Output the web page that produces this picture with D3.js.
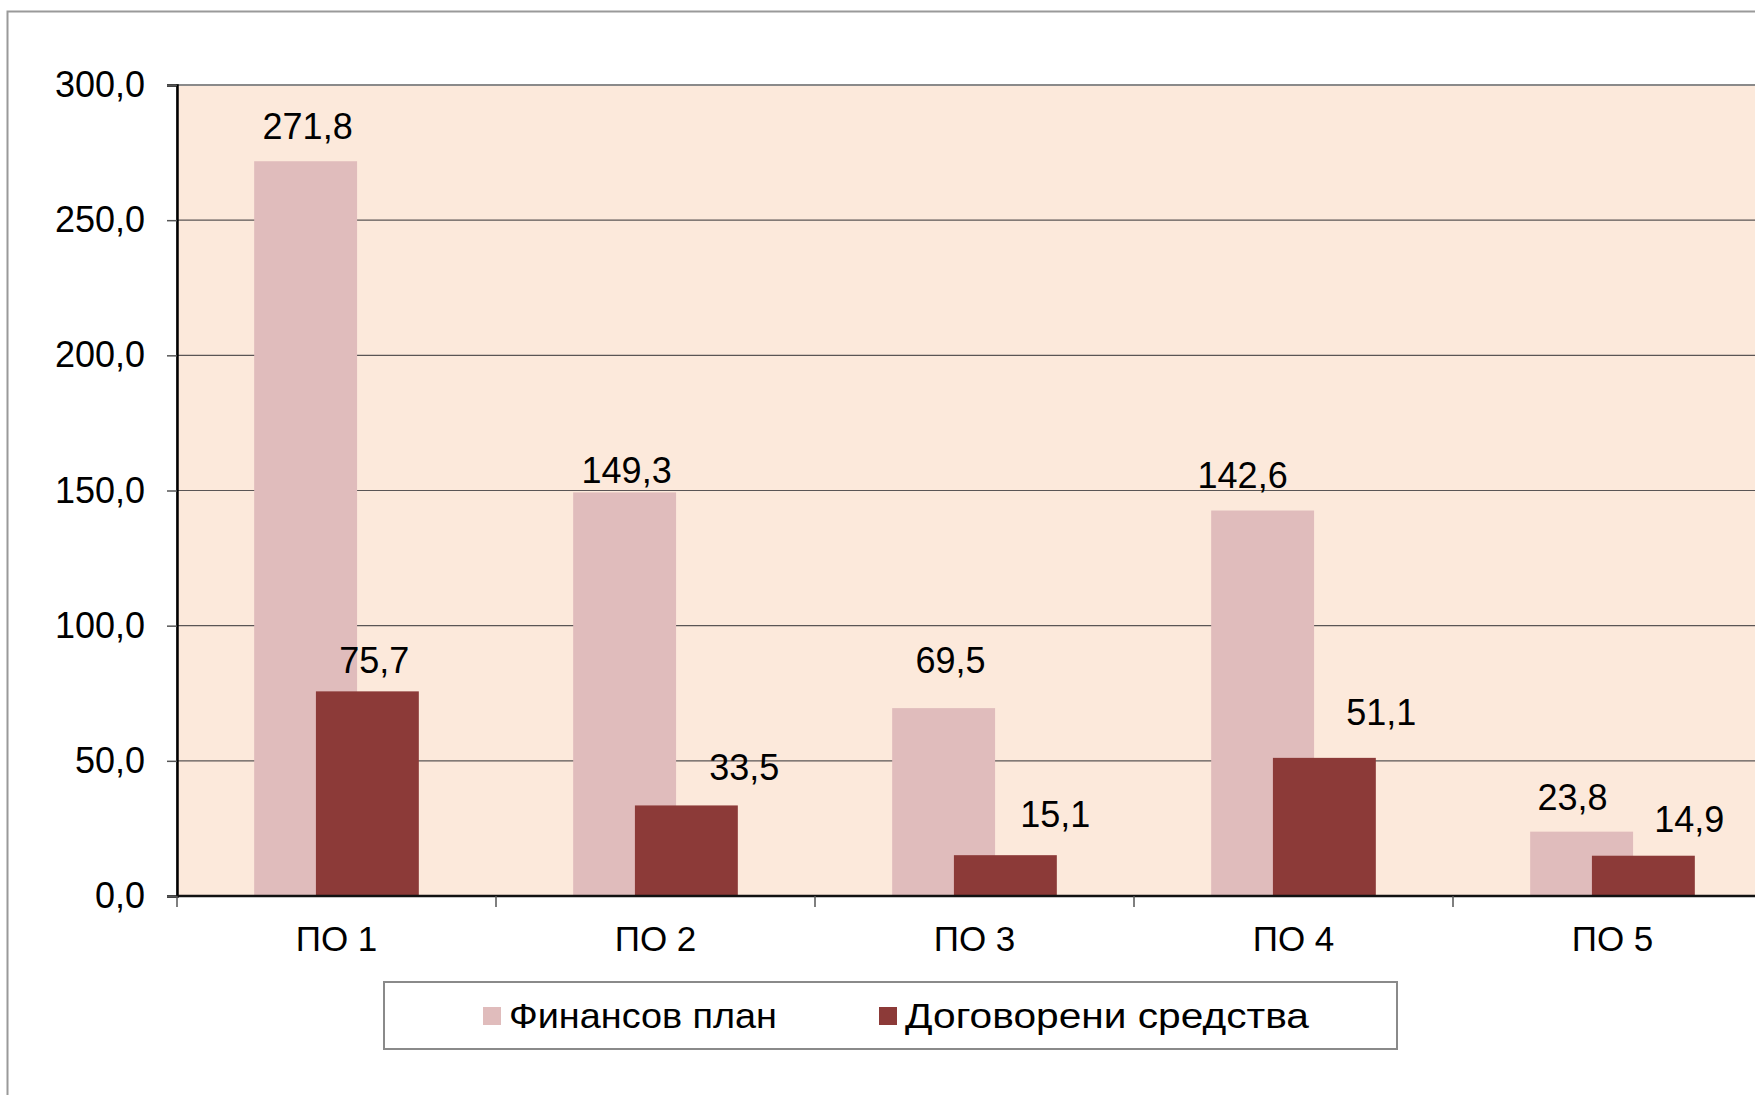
<!DOCTYPE html>
<html>
<head>
<meta charset="utf-8">
<script src="https://cdn.jsdelivr.net/npm/d3@7"></script>
<style>
  body { margin: 0; background: #fff; }
  text { font-family: "Liberation Sans", Arial, sans-serif; fill: #000; }
</style>
</head>
<body>
<div id="chart"></div>
<script>
// data
const categories = ["ПО 1", "ПО 2", "ПО 3", "ПО 4", "ПО 5"];
const seriesNames = ["Финансов план", "Договорени средства"];
const financialPlan = [271.8, 149.3, 69.5, 142.6, 23.8];
const contracted = [75.7, 33.5, 15.1, 51.1, 14.9];
const yTicks = [0, 50, 100, 150, 200, 250, 300];

// label nudges (layout only, px relative to the bar top centre)
const planLabelNudge = [[2, -35], [2, -22], [7, -48], [-20, -35], [-9, -34]];
const contractLabelNudge = [[7, -31], [58, -38], [50, -41], [57, -45], [46, -36]];

const colors = ["#e0bcbc", "#8c3a38"];

var width = 1755, height = 1095;
var margin = {top: 85, left: 177, right: 1772, bottom: 896};

const svg = d3.select("#chart")
  .append("svg")
    .attr("width", width)
    .attr("height", height);

// outer chart border (runs off the right / bottom edge)
svg.append("rect")
  .attr("x", 7.5).attr("y", 11.5)
  .attr("width", 1800).attr("height", 1200)
  .attr("fill", "#fff")
  .attr("stroke", "#9a9a9a")
  .attr("stroke-width", 2);

// scales
var x = d3.scaleBand()
  .domain(categories)
  .range([margin.left, margin.right])
  .padding(0);

var y = d3.scaleLinear()
  .domain([0, 300])
  .range([margin.bottom, margin.top]);

// Excel style: gap width 150%, overlap 40%
var barW = x.bandwidth() / 3.1;
var x1 = d3.scaleOrdinal()
  .domain([0, 1])
  .range([0.75 * barW, 0.75 * barW + 0.6 * barW]);

// plot area
svg.append("rect")
  .attr("x", margin.left).attr("y", margin.top)
  .attr("width", margin.right - margin.left + 20)
  .attr("height", margin.bottom - margin.top)
  .attr("fill", "#fce9db")
  .attr("stroke", "#8a8a8a")
  .attr("stroke-width", 2);

// gridlines
svg.append("g")
  .selectAll("line")
  .data(yTicks.filter(d => d > 0 && d < 300))
  .enter()
  .append("line")
    .attr("x1", margin.left).attr("x2", width)
    .attr("y1", d => y(d)).attr("y2", d => y(d))
    .attr("stroke", "#5a5555")
    .attr("stroke-width", 1.2);

// bars
const series = [financialPlan, contracted];
series.forEach(function(vals, s) {
  svg.append("g")
    .selectAll("rect")
    .data(vals)
    .enter()
    .append("rect")
      .attr("x", (d, i) => x(categories[i]) + x1(s))
      .attr("width", barW)
      .attr("y", d => y(d))
      .attr("height", d => y(0) - y(d))
      .style("fill", colors[s]);
});

// axes
var fmt = v => d3.format(".1f")(v).replace(".", ",");

var yAxis = svg.append("g")
  .attr("transform", "translate(" + margin.left + ",0)")
  .call(d3.axisLeft(y).tickValues(yTicks).tickFormat(fmt).tickSize(10).tickPadding(22));
yAxis.select(".domain").attr("stroke", "#000").attr("stroke-width", 2.5);
yAxis.selectAll(".tick line").attr("stroke", "#555").attr("stroke-width", 1.5);
yAxis.selectAll(".tick text")
  .style("font-size", "36px")
  .style("font-family", "'Liberation Sans', Arial, sans-serif")
  .attr("fill", "#000");

var xAxis = svg.append("g")
  .attr("transform", "translate(0," + margin.bottom + ")")
  .call(d3.axisBottom(x).tickSize(0).tickPadding(30));
xAxis.select(".domain").remove();
xAxis.selectAll(".tick text")
  .style("font-size", "35px")
  .style("font-family", "'Liberation Sans', Arial, sans-serif")
  .attr("fill", "#000");

svg.append("line")
  .attr("x1", margin.left).attr("x2", width)
  .attr("y1", margin.bottom).attr("y2", margin.bottom)
  .attr("stroke", "#111")
  .attr("stroke-width", 2.5);

// category boundary ticks
svg.append("g")
  .selectAll("line")
  .data(categories)
  .enter()
  .append("line")
    .attr("x1", d => x(d)).attr("x2", d => x(d))
    .attr("y1", margin.bottom).attr("y2", margin.bottom + 11)
    .attr("stroke", "#555")
    .attr("stroke-width", 1.5);

// value labels
var nudges = [planLabelNudge, contractLabelNudge];
series.forEach(function(vals, s) {
  svg.append("g")
    .selectAll("text")
    .data(vals)
    .enter()
    .append("text")
      .attr("x", (d, i) => x(categories[i]) + x1(s) + barW / 2 + nudges[s][i][0])
      .attr("y", (d, i) => y(d) + nudges[s][i][1])
      .attr("dy", "0.35em")
      .attr("text-anchor", "middle")
      .style("font-size", "36px")
      .text(d => fmt(d));
});

// legend
var legend = svg.append("g");
legend.append("rect")
  .attr("x", 384).attr("y", 982)
  .attr("width", 1013).attr("height", 67)
  .attr("fill", "#fff")
  .attr("stroke", "#8a8a8a")
  .attr("stroke-width", 2);

var legendX = [483, 879];
var legendLen = [268, 404];
seriesNames.forEach(function(name, i) {
  legend.append("rect")
    .attr("x", legendX[i]).attr("y", 1007)
    .attr("width", 18).attr("height", 18)
    .style("fill", colors[i]);
  legend.append("text")
    .attr("x", legendX[i] + 26)
    .attr("y", 1016)
    .attr("dy", "0.35em")
    .attr("textLength", legendLen[i])
    .attr("lengthAdjust", "spacingAndGlyphs")
    .style("font-size", "35px")
    .text(name);
});
</script>
</body>
</html>
